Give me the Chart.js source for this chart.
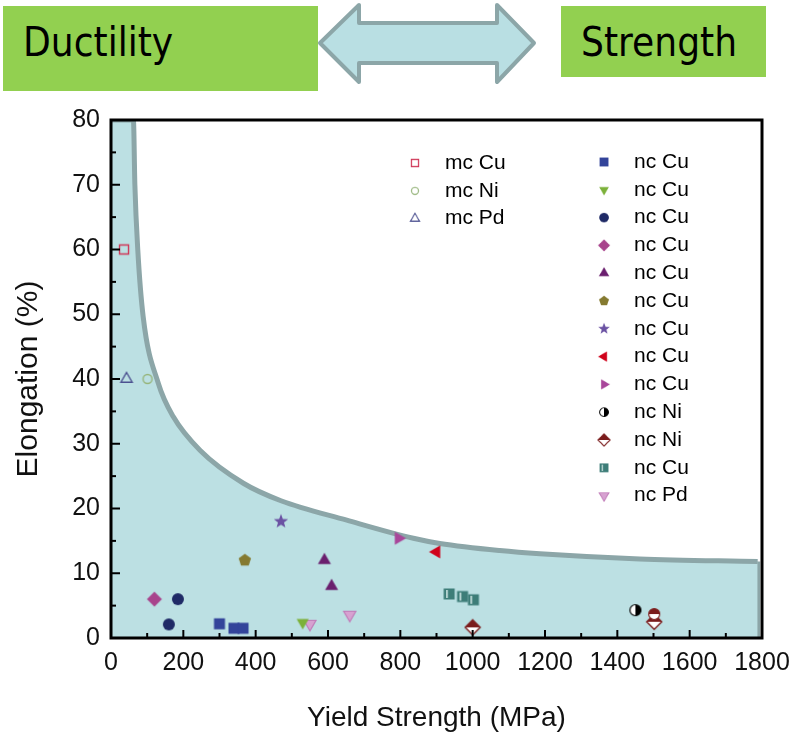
<!DOCTYPE html>
<html>
<head>
<meta charset="utf-8">
<script src="https://cdn.jsdelivr.net/npm/chart.js@4.4.1/dist/chart.umd.min.js"></script>
<style>
  body { margin: 0; background: #fff; }
  #wrap { position: relative; width: 793px; height: 735px; overflow: hidden; }
  #chart { position: absolute; left: 0; top: 0; }
  .box { position: absolute; background: #92d050; z-index: 2; }
  .box span {
    position: absolute; top: 16px; left: 20px;
    font-family: 'DejaVu Sans', sans-serif; font-size: 41px; line-height: 41px;
    color: #000; white-space: nowrap;
    transform: scaleX(0.88); transform-origin: left center;
  }
  #arrow { position: absolute; left: 0; top: 0; z-index: 2; }
</style>
</head>
<body>
<div id="wrap">
  <canvas id="chart" width="793" height="735"></canvas>
  <div class="box" style="left:3px; top:6px; width:315px; height:85px;"><span>Ductility</span></div>
  <div class="box" style="left:561px; top:6px; width:205px; height:71px;"><span>Strength</span></div>
  <svg id="arrow" width="793" height="100">
    <polygon points="320,43 359,5 359,23 497,23 497,5 534,43 497,82 497,63 359,63 359,82"
             fill="#b9dfe3" stroke="#8ca6a8" stroke-width="4" stroke-linejoin="round"/>
  </svg>
</div>
<script>
// yield strength (MPa) / elongation (%) pairs
const mcCu = [[36, 60]];
const mcNi = [[101, 40]];
const mcPd = [[43, 40]];

const ncCuSquare = [[300, 2.2], [340, 1.5], [365, 1.5]];
const ncCuDown = [[530, 2.4]];
const ncCuCircle = [[160, 2.1], [185, 6.0]];
const ncCuDiamond = [[120, 6.0]];
const ncCuUp = [[590, 12.0], [610, 8.0]];
const ncCuPentagon = [[370, 12.0]];
const ncCuStar = [[470, 18.0]];
const ncCuLeft = [[900, 13.3]];
const ncCuRight = [[795, 15.4]];
const ncNiHalfCircle = [[1450, 4.3], [1502, 3.7]];
const ncNiHalfDiamond = [[1000, 1.65], [1502, 2.5]];
const ncCuHalfSquare = [[935, 6.8], [972, 6.4], [1002, 5.9]];
const ncPd = [[550, 2.2], [660, 3.6]];

// strength-ductility envelope
const envelope = [[0, 80], [62, 80], [66, 70], [74, 60], [89, 49.6], [131, 39.3], [172, 34.2],
  [246, 29], [366, 23.9], [470, 21.2], [652, 18.2], [836, 15.4], [909, 14.6], [1075, 13.5],
  [1186, 13.0], [1462, 12.2], [1788, 11.8]];
const envelopeEdge = [[1788, 11.8], [1788, 0], [0, 0], [0, 80]];

const xTicks = [0, 200, 400, 600, 800, 1000, 1200, 1400, 1600, 1800];
const yTicks = [0, 10, 20, 30, 40, 50, 60, 70, 80];

const pts = list => list.map(([x, y]) => ({ x, y }));

// ---- marker glyphs ----
function marker(size, paint) {
  const c = document.createElement('canvas');
  c.width = c.height = size;
  const g = c.getContext('2d');
  g.translate(size / 2, size / 2);
  paint(g);
  return c;
}
function poly(g, n, r, rot) {
  g.beginPath();
  for (let i = 0; i < n; i++) {
    const a = rot + i * 2 * Math.PI / n;
    g.lineTo(r * Math.cos(a), r * Math.sin(a));
  }
  g.closePath();
}
function star(g, r) {
  g.beginPath();
  for (let i = 0; i < 10; i++) {
    const a = -Math.PI / 2 + i * Math.PI / 5;
    const rr = i % 2 ? r * 0.42 : r;
    g.lineTo(rr * Math.cos(a), rr * Math.sin(a));
  }
  g.closePath();
}
const filled = (color, shape) => marker(18, g => { shape(g); g.fillStyle = color; g.fill(); });
const open = (color, shape) => marker(18, g => { shape(g); g.lineWidth = 1.4; g.strokeStyle = color; g.stroke(); });

const sq = s => g => { g.beginPath(); g.rect(-s, -s, 2 * s, 2 * s); };
const circ = r => g => { g.beginPath(); g.arc(0, 0, r, 0, Math.PI * 2); };

const mk = {
  mcCu: open('#cf3556', sq(4.5)),
  mcNi: open('#97b57c', circ(4.5)),
  mcPd: open('#4c5190', g => poly(g, 3, 6.5, -Math.PI / 2)),
  square: filled('#33449a', sq(5.5)),
  down: filled('#7cb13a', g => poly(g, 3, 7, Math.PI / 2)),
  circle: filled('#1f2a66', circ(6)),
  diamond: filled('#a8448c', g => poly(g, 4, 7.5, -Math.PI / 2)),
  up: filled('#6a1f6e', g => poly(g, 3, 7.5, -Math.PI / 2)),
  pentagon: filled('#857a30', g => poly(g, 5, 6.5, -Math.PI / 2)),
  star: filled('#6b52a3', g => star(g, 7.5)),
  left: filled('#d0021b', g => poly(g, 3, 7.5, Math.PI)),
  right: filled('#a8469a', g => poly(g, 3, 7.5, 0)),
  halfCircle: marker(18, g => {
    circ(5.5)(g); g.fillStyle = '#fff'; g.fill();
    g.beginPath(); g.arc(0, 0, 5.5, -Math.PI / 2, Math.PI / 2); g.fillStyle = '#000'; g.fill();
    circ(5.5)(g); g.lineWidth = 1.2; g.strokeStyle = '#000'; g.stroke();
  }),
  halfCircleRed: marker(18, g => {
    circ(5.5)(g); g.fillStyle = '#fff'; g.fill();
    g.beginPath(); g.arc(0, 0, 5.5, Math.PI, Math.PI * 2); g.fillStyle = '#7a1c1c'; g.fill();
    circ(5.5)(g); g.lineWidth = 1.2; g.strokeStyle = '#7a1c1c'; g.stroke();
  }),
  halfDiamond: marker(18, g => {
    poly(g, 4, 7.5, -Math.PI / 2); g.fillStyle = '#fff'; g.fill();
    g.beginPath(); g.moveTo(-7.5, 0); g.lineTo(0, -7.5); g.lineTo(7.5, 0); g.closePath();
    g.fillStyle = '#7a1c1c'; g.fill();
    poly(g, 4, 7.5, -Math.PI / 2); g.lineWidth = 1.4; g.strokeStyle = '#7a1c1c'; g.stroke();
  }),
  halfSquare: marker(18, g => {
    g.fillStyle = '#3d7d78'; g.fillRect(-5.5, -5.5, 11, 11);
    g.fillStyle = '#cfe6e4'; g.fillRect(-3, -4, 1.6, 8);
  }),
  pd: marker(18, g => {
    poly(g, 3, 7, Math.PI / 2); g.fillStyle = '#d7a2d1'; g.fill();
    g.lineWidth = 1.2; g.strokeStyle = '#c07ab8'; g.stroke();
  })
};

function series(label, data, style, col) {
  return { label, data: pts(data), pointStyle: style, col, showLine: false, order: 0 };
}

const datasets = [
  series('mc Cu', mcCu, mk.mcCu, 0),
  series('mc Ni', mcNi, mk.mcNi, 0),
  series('mc Pd', mcPd, mk.mcPd, 0),
  series('nc Cu', ncCuSquare, mk.square, 1),
  series('nc Cu', ncCuDown, mk.down, 1),
  series('nc Cu', ncCuCircle, mk.circle, 1),
  series('nc Cu', ncCuDiamond, mk.diamond, 1),
  series('nc Cu', ncCuUp, mk.up, 1),
  series('nc Cu', ncCuPentagon, mk.pentagon, 1),
  series('nc Cu', ncCuStar, mk.star, 1),
  series('nc Cu', ncCuLeft, mk.left, 1),
  series('nc Cu', ncCuRight, mk.right, 1),
  series('nc Ni', ncNiHalfCircle, [mk.halfCircle, mk.halfCircleRed], 1),
  series('nc Ni', ncNiHalfDiamond, mk.halfDiamond, 1),
  series('nc Cu', ncCuHalfSquare, mk.halfSquare, 1),
  series('nc Pd', ncPd, mk.pd, 1),
  {
    data: pts(envelope), showLine: true, fill: 'origin', cubicInterpolationMode: 'monotone',
    backgroundColor: '#bce0e3', borderColor: '#8ca6a8', borderWidth: 5,
    pointRadius: 0, order: 10
  },
  {
    data: pts(envelopeEdge), showLine: true, fill: false, tension: 0,
    borderColor: '#8ca6a8', borderWidth: 5, pointRadius: 0, order: 10
  }
];

// frame plus inward ticks
const framePlugin = {
  id: 'frame',
  afterDatasetsDraw(chart) {
    const { ctx, chartArea: a, scales: { x, y } } = chart;
    ctx.save();
    ctx.strokeStyle = '#000';
    ctx.lineWidth = 2;
    for (let v = 100; v < 1800; v += 100) {
      const px = x.getPixelForValue(v);
      const len = v % 200 === 0 ? 8 : 5;
      ctx.beginPath(); ctx.moveTo(px, a.bottom); ctx.lineTo(px, a.bottom - len); ctx.stroke();
    }
    for (let v = 5; v < 80; v += 5) {
      const py = y.getPixelForValue(v);
      const len = v % 10 === 0 ? 9 : 5;
      ctx.beginPath(); ctx.moveTo(a.left, py); ctx.lineTo(a.left + len, py); ctx.stroke();
    }
    ctx.lineWidth = 3;
    ctx.strokeRect(a.left, a.top, a.right - a.left, a.bottom - a.top);
    ctx.restore();
  }
};

// two-column legend inside the plot
const legendPlugin = {
  id: 'twoColLegend',
  afterDraw(chart) {
    const { ctx } = chart;
    const cols = [{ mx: 415, tx: 445, y0: 163 }, { mx: 604, tx: 634, y0: 162 }];
    const rows = [0, 0];
    ctx.save();
    ctx.font = "21px 'Liberation Sans', Arial, sans-serif";
    ctx.fillStyle = '#000';
    ctx.textBaseline = 'middle';
    chart.data.datasets.forEach(ds => {
      if (ds.col === undefined) return;
      const c = cols[ds.col];
      const yy = c.y0 + rows[ds.col]++ * 27.8;
      const img = Array.isArray(ds.pointStyle) ? ds.pointStyle[0] : ds.pointStyle;
      const k = 0.8;
      ctx.drawImage(img, c.mx - img.width * k / 2, yy - img.height * k / 2, img.width * k, img.height * k);
      ctx.fillText(ds.label, c.tx, yy);
    });
    ctx.restore();
  }
};

const sans = "'Liberation Sans', Arial, sans-serif";

new Chart(document.getElementById('chart'), {
  type: 'scatter',
  data: { datasets },
  options: {
    responsive: false,
    animation: false,
    layout: { padding: { left: 0, right: 31, top: 120, bottom: 0 } },
    plugins: { legend: { display: false }, tooltip: { enabled: false } },
    scales: {
      x: {
        type: 'linear', min: 0, max: 1800,
        afterBuildTicks: s => { s.ticks = xTicks.map(v => ({ value: v })); },
        afterFit: s => { s.height = 97; s.paddingLeft = 0; s.paddingRight = 0; },
        grid: { display: false, drawTicks: false },
        border: { display: false },
        ticks: {
          padding: 10, color: '#111', maxRotation: 0, minRotation: 0, autoSkip: false,
          callback: v => String(v),
          font: { family: sans, size: 25 }
        },
        title: {
          display: true, text: 'Yield Strength (MPa)', color: '#111', padding: 0,
          font: { family: sans, size: 28 }
        }
      },
      y: {
        min: 0, max: 80,
        afterBuildTicks: s => { s.ticks = yTicks.map(v => ({ value: v })); },
        afterFit: s => { s.width = 111; s.paddingTop = 0; s.paddingBottom = 0; },
        grid: { display: false, drawTicks: false },
        border: { display: false },
        ticks: {
          padding: 11, color: '#111',
          font: { family: sans, size: 25 }
        },
        title: {
          display: true, text: 'Elongation (%)', color: '#111', padding: { top: 11 },
          font: { family: sans, size: 30 }
        }
      }
    }
  },
  plugins: [framePlugin, legendPlugin]
});
</script>
</body>
</html>
